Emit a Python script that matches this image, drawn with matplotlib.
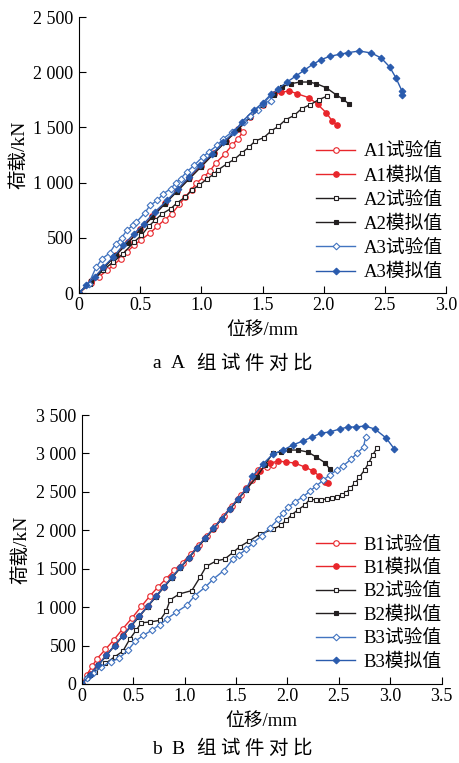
import matplotlib
matplotlib.use('Agg')
import matplotlib.pyplot as plt
from matplotlib.ticker import FuncFormatter, MultipleLocator

plt.rcParams['font.family'] = ['Liberation Serif', 'Noto Sans CJK SC']
plt.rcParams['font.size'] = 13

RED = '#E8262B'
BLACK = '#231F20'
BLUE = '#2A5BAD'
BLUE_T = '#4274C0'

# ---- group A ----
a1_test_x = [0, 0.10, 0.16, 0.23, 0.28, 0.34, 0.39, 0.45, 0.51, 0.58, 0.64, 0.70, 0.76, 0.82, 0.87,
             0.92, 0.96, 1.02, 1.07, 1.12, 1.19, 1.25, 1.30, 1.34]
a1_test_y = [0, 91, 145, 205, 250, 311, 371, 432, 483, 543, 604, 664, 718, 803, 870,
             936, 996, 1051, 1105, 1180, 1256, 1338, 1398, 1458]
a1_sim_x = [0, 0.10, 0.20, 0.30, 0.40, 0.50, 0.60, 0.70, 0.80, 0.90, 1.00, 1.10, 1.20, 1.30, 1.40,
            1.50, 1.59, 1.65, 1.72, 1.78, 1.88, 1.95, 2.02, 2.07, 2.11]
a1_sim_y = [0, 112, 228, 345, 460, 578, 695, 812, 925, 1040, 1150, 1265, 1375, 1485, 1595,
            1700, 1800, 1818, 1830, 1806, 1769, 1709, 1634, 1558, 1519]
a2_test_x = [0, 0.09, 0.20, 0.28, 0.36, 0.45, 0.51, 0.57, 0.62, 0.68, 0.75, 0.80, 0.87, 0.92, 0.98,
             1.05, 1.10, 1.14, 1.21, 1.27, 1.33, 1.39, 1.44, 1.51, 1.57, 1.63, 1.69, 1.76, 1.82,
             1.89, 1.96, 2.03]
a2_test_y = [0, 85, 211, 281, 356, 462, 522, 604, 658, 718, 764, 815, 870, 930, 975,
             1036, 1075, 1117, 1171, 1211, 1268, 1322, 1377, 1407, 1467, 1510, 1570, 1609, 1670,
             1706, 1751, 1784]
a2_sim_x = [0, 0.10, 0.20, 0.30, 0.40, 0.50, 0.60, 0.70, 0.80, 0.90, 1.00, 1.10, 1.20, 1.30, 1.40,
            1.50, 1.59, 1.66, 1.73, 1.81, 1.88, 1.94, 2.02, 2.10, 2.16, 2.21]
a2_sim_y = [0, 110, 225, 340, 455, 570, 688, 805, 918, 1032, 1145, 1260, 1372, 1482, 1595,
            1700, 1790, 1866, 1896, 1911, 1911, 1896, 1860, 1797, 1754, 1709]
a3_test_x = [0, 0.08, 0.14, 0.19, 0.25, 0.30, 0.35, 0.39, 0.44, 0.47, 0.54, 0.58, 0.64, 0.69, 0.75,
             0.79, 0.83, 0.88, 0.94, 1.01, 1.06, 1.13, 1.18, 1.25, 1.35, 1.40, 1.46, 1.50, 1.55, 1.57]
a3_test_y = [0, 85, 235, 311, 362, 447, 501, 568, 613, 643, 728, 794, 839, 900, 945,
             996, 1036, 1096, 1156, 1232, 1277, 1338, 1398, 1458, 1549, 1600, 1655, 1709, 1745, 1739]
a3_sim_x = [0, 0.06, 0.13, 0.20, 0.28, 0.36, 0.45, 0.53, 0.62, 0.72, 0.81, 0.90, 0.99, 1.09, 1.18,
            1.27, 1.33, 1.43, 1.50, 1.57, 1.63, 1.70, 1.77, 1.84, 1.91, 1.98, 2.05, 2.13, 2.20,
            2.29, 2.39, 2.47, 2.54, 2.59, 2.64, 2.64]
a3_sim_y = [0, 69, 145, 235, 326, 432, 537, 628, 734, 839, 945, 1051, 1156, 1262, 1368,
            1458, 1549, 1655, 1721, 1800, 1851, 1911, 1963, 2017, 2071, 2114, 2144, 2162, 2177,
            2192, 2174, 2129, 2047, 1950, 1830, 1797]

# ---- group B ----
b1_test_x = [0, 0.05, 0.10, 0.15, 0.23, 0.31, 0.40, 0.49, 0.58, 0.66, 0.74, 0.82, 0.90, 0.98,
             1.06, 1.14, 1.22, 1.30, 1.38, 1.46, 1.55, 1.60, 1.66, 1.71, 1.80, 1.86]
b1_test_y = [0, 120, 230, 330, 450, 570, 720, 860, 1010, 1140, 1260, 1370, 1480, 1580,
             1690, 1810, 1930, 2060, 2190, 2320, 2459, 2550, 2654, 2784, 2823, 2849]
b1_sim_x = [0, 0.08, 0.16, 0.24, 0.32, 0.40, 0.48, 0.56, 0.64, 0.72, 0.80, 0.88, 0.96, 1.04,
            1.12, 1.20, 1.28, 1.36, 1.44, 1.52, 1.60, 1.73, 1.83, 1.91, 1.99, 2.07, 2.17, 2.25,
            2.31, 2.37, 2.39]
b1_sim_y = [0, 125, 250, 378, 505, 632, 760, 885, 1012, 1140, 1265, 1392, 1518, 1642,
            1770, 1895, 2020, 2148, 2275, 2405, 2535, 2770, 2875, 2901, 2888, 2875, 2823, 2771,
            2706, 2628, 2615]
b2_test_x = [0, 0.05, 0.13, 0.23, 0.32, 0.40, 0.47, 0.53, 0.58, 0.66, 0.76, 0.82, 0.86, 0.95,
             1.07, 1.15, 1.21, 1.31, 1.39, 1.47, 1.54, 1.63, 1.73, 1.86, 1.94, 1.99, 2.04, 2.10,
             2.17, 2.22, 2.28, 2.33, 2.38, 2.43, 2.48, 2.53, 2.57, 2.61, 2.66, 2.70, 2.75, 2.79,
             2.83, 2.87]
b2_test_y = [0, 73, 159, 267, 353, 427, 590, 700, 797, 806, 828, 944, 1095, 1172,
             1215, 1388, 1530, 1603, 1625, 1711, 1789, 1862, 1948, 2013, 2069, 2134, 2199, 2264,
             2329, 2407, 2394, 2400, 2407, 2420, 2433, 2459, 2485, 2550, 2615, 2693, 2784, 2875,
             2980, 3070]
b2_sim_x = [0, 0.08, 0.16, 0.24, 0.32, 0.40, 0.48, 0.56, 0.64, 0.72, 0.80, 0.88, 0.96, 1.04,
            1.12, 1.20, 1.28, 1.36, 1.44, 1.52, 1.60, 1.70, 1.78, 1.86, 1.94, 2.02, 2.10, 2.20,
            2.28, 2.37, 2.41]
b2_sim_y = [0, 118, 242, 370, 497, 625, 752, 878, 1005, 1132, 1258, 1385, 1512, 1638,
            1765, 1890, 2018, 2145, 2272, 2400, 2530, 2690, 2850, 3005, 3018, 3044, 3044, 3018,
            2953, 2875, 2797]
b3_test_x = [0, 0.05, 0.11, 0.19, 0.28, 0.36, 0.45, 0.52, 0.60, 0.68, 0.76, 0.83, 0.92, 1.02,
             1.10, 1.20, 1.28, 1.38, 1.47, 1.53, 1.60, 1.67, 1.75, 1.83, 1.91, 1.96, 2.01, 2.07,
             2.15, 2.22, 2.28, 2.35, 2.41, 2.48, 2.54, 2.62, 2.68, 2.74, 2.76]
b3_test_y = [0, 73, 138, 224, 289, 332, 440, 556, 634, 698, 772, 849, 935, 1022,
             1151, 1259, 1366, 1474, 1625, 1680, 1754, 1840, 1927, 2034, 2142, 2225, 2303, 2368,
             2433, 2511, 2576, 2654, 2719, 2784, 2836, 2927, 3005, 3084, 3214]
b3_sim_x = [0, 0.08, 0.16, 0.24, 0.32, 0.40, 0.48, 0.56, 0.64, 0.72, 0.80, 0.88, 0.96, 1.04,
            1.12, 1.20, 1.28, 1.36, 1.44, 1.52, 1.60, 1.66, 1.76, 1.86, 1.96, 2.05, 2.15, 2.24,
            2.33, 2.41, 2.51, 2.59, 2.67, 2.75, 2.85, 2.96, 3.04]
b3_sim_y = [0, 120, 245, 375, 500, 630, 760, 885, 1010, 1140, 1265, 1395, 1520, 1645,
            1775, 1900, 2025, 2150, 2280, 2410, 2540, 2700, 2860, 2992, 3044, 3109, 3161, 3214,
            3265, 3279, 3318, 3344, 3344, 3357, 3318, 3200, 3057]

A_SERIES = [
    ('A1试验值', a1_test_x, a1_test_y, RED, 'o', False),
    ('A1模拟值', a1_sim_x, a1_sim_y, RED, 'o', True),
    ('A2试验值', a2_test_x, a2_test_y, BLACK, 's', False),
    ('A2模拟值', a2_sim_x, a2_sim_y, BLACK, 's', True),
    ('A3试验值', a3_test_x, a3_test_y, BLUE_T, 'D', False),
    ('A3模拟值', a3_sim_x, a3_sim_y, BLUE, 'D', True),
]
B_SERIES = [
    ('B1试验值', b1_test_x, b1_test_y, RED, 'o', False),
    ('B1模拟值', b1_sim_x, b1_sim_y, RED, 'o', True),
    ('B2试验值', b2_test_x, b2_test_y, BLACK, 's', False),
    ('B2模拟值', b2_sim_x, b2_sim_y, BLACK, 's', True),
    ('B3试验值', b3_test_x, b3_test_y, BLUE_T, 'D', False),
    ('B3模拟值', b3_sim_x, b3_sim_y, BLUE, 'D', True),
]
MS = {'o': 4.0, 's': 3.4, 'D': 3.4}

W, H = 459, 763


def kfmt(v, pos):
    v = int(round(v))
    if v >= 1000:
        return f'{v // 1000} {v % 1000:03d}'
    return str(v)


def xfmt(v, pos):
    return '0' if abs(v) < 1e-9 else f'{v:.1f}'


def draw(ax, series, xmax, ymax, leg_anchor, leg_space, ylab_x, xlab_y):
    for lab, xs, ys, col, mk, filled in series:
        ax.plot(xs, ys, color=col, lw=1.0, marker=mk, ms=MS[mk],
                mfc=col if filled else 'white', mec=col, mew=0.8, label=lab)
    ax.set_xlim(0, xmax)
    ax.set_ylim(0, ymax)
    ax.xaxis.set_major_locator(MultipleLocator(0.5))
    ax.yaxis.set_major_locator(MultipleLocator(500))
    ax.xaxis.set_major_formatter(FuncFormatter(xfmt))
    ax.yaxis.set_major_formatter(FuncFormatter(kfmt))
    ax.spines[['top', 'right']].set_visible(False)
    ax.tick_params(direction='in', length=5, width=0.8, labelsize=13)
    ax.tick_params(axis='y', pad=4)
    ax.tick_params(axis='x', pad=3)
    for s in ('left', 'bottom'):
        ax.spines[s].set_linewidth(0.8)
    ax.set_xlabel('位移/mm', fontsize=13.5)
    ax.set_ylabel('荷载/kN', fontsize=14)
    ax.yaxis.set_label_coords(ylab_x, 0.5)
    ax.xaxis.set_label_coords(0.5, xlab_y)
    ax.legend(loc='lower left', bbox_to_anchor=leg_anchor, frameon=False, fontsize=13.5,
              handlelength=2.1, handletextpad=0.42, labelspacing=leg_space,
              borderpad=0, borderaxespad=0)


def caption(chars, y_px):
    # caption characters are spaced out in the source figure
    for ch, x_px in chars:
        fig.text(x_px / W, 1 - y_px / H, ch, ha='left', va='center', fontsize=14)


fig = plt.figure(figsize=(W / 100, H / 100), dpi=100, facecolor='white')
ax1 = fig.add_axes([79 / W, 1 - 293 / H, 367 / W, 276 / H])
ax2 = fig.add_axes([81.7 / W, 1 - 684 / H, 360 / W, 269 / H])

draw(ax1, A_SERIES, 3.0, 2500, (0.646, 0.043), 0.37, -0.139, -0.105)
draw(ax2, B_SERIES, 3.5, 3500, (0.651, 0.05), 0.33, -0.144, -0.108)

cap_x = [152, 171, 196, 220, 244, 268, 292]
caption(zip(['a', 'A', '组', '试', '件', '对', '比'], cap_x), 364)
caption(zip(['b', 'B', '组', '试', '件', '对', '比'], cap_x), 749)

fig.savefig('out.png', dpi=100, facecolor='white')
plt.close(fig)
